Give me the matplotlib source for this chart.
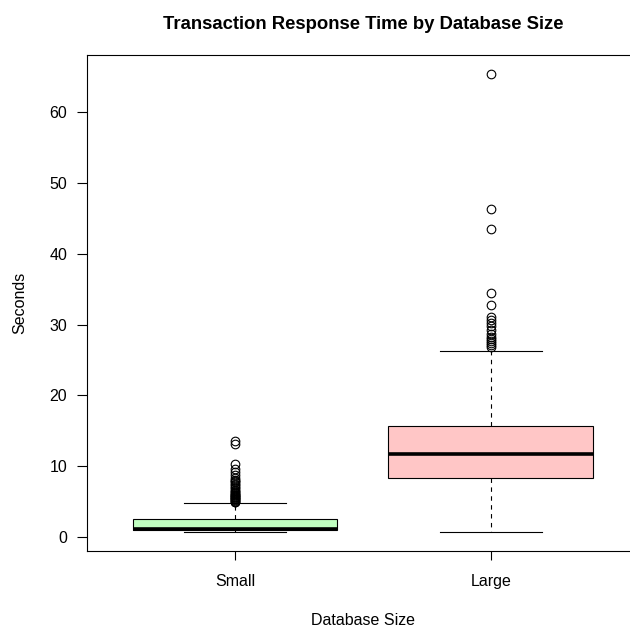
import matplotlib
matplotlib.use("Agg")
import matplotlib.pyplot as plt

plt.rcParams['font.family'] = ['Liberation Sans', 'DejaVu Sans']

# response time summaries (seconds) for each database size
groups = ["Small", "Large"]
q1 = [1.05, 8.4]
median = [1.2, 11.65]
q3 = [2.55, 15.65]
whisker_low = [0.66, 0.66]
whisker_high = [4.85, 26.3]
small_outliers = [4.9, 5.0, 5.1, 5.2, 5.3, 5.4, 5.5, 5.6, 5.7, 5.8, 5.9, 6.0,
                  6.1, 6.2, 6.35, 6.5, 6.7, 6.9, 7.1, 7.3, 7.5, 7.7, 7.9, 8.1,
                  8.3, 8.75, 9.2, 9.6, 10.25, 13.2, 13.55]
large_outliers = [26.8, 27.1, 27.4, 27.7, 28.0, 28.3, 28.6, 29.2, 29.8, 30.2,
                  30.6, 31.1, 32.75, 34.45, 43.5, 46.3, 65.4]
outliers = [small_outliers, large_outliers]
colors = ["#C1FFC1", "#FFC6C6"]

stats = []
for i, g in enumerate(groups):
    stats.append(dict(label=g, q1=q1[i], med=median[i], q3=q3[i],
                      whislo=whisker_low[i], whishi=whisker_high[i],
                      fliers=outliers[i]))

fig = plt.figure(figsize=(6.3, 6.27), dpi=100)
ax = fig.add_axes([0.1376, 0.1217, 0.8767, 0.7906])

bp = ax.bxp(stats, positions=[1, 2], widths=0.8, patch_artist=True,
            showfliers=True,
            boxprops=dict(edgecolor="black", linewidth=0.8),
            medianprops=dict(color="black", linewidth=2.6, solid_capstyle="butt"),
            whiskerprops=dict(color="black", linewidth=0.8, linestyle=(0, (4, 4))),
            capprops=dict(color="black", linewidth=0.8),
            flierprops=dict(marker="o", markerfacecolor="none",
                            markeredgecolor="black", markersize=6.2,
                            markeredgewidth=0.8, linestyle="none"))
for c in bp["caps"]:
    x = c.get_xdata()
    mid = (x[0] + x[1]) / 2
    c.set_xdata([mid - 0.2, mid + 0.2])
for patch, col in zip(bp["boxes"], colors):
    patch.set_facecolor(col)

ax.set_xlim(0.42, 2.58)
ax.set_ylim(-1.93, 68.05)
ax.set_yticks([0, 10, 20, 30, 40, 50, 60])
ax.set_xticks([1, 2])
ax.set_xticklabels(groups)
ax.tick_params(axis="x", direction="out", length=6.5, width=0.8,
               labelsize=11.5, pad=10.5)
ax.tick_params(axis="y", direction="out", length=7, width=0.8,
               labelsize=11.5, pad=7)
for s in ax.spines.values():
    s.set_linewidth(0.8)

ax.set_title("Transaction Response Time by Database Size",
             fontsize=13.3, fontweight="bold", pad=19)
ax.set_ylabel("Seconds", fontsize=11.5, labelpad=16)
ax.set_xlabel("Database Size", fontsize=11.5, labelpad=17)

fig.savefig("out.png", dpi=100)
